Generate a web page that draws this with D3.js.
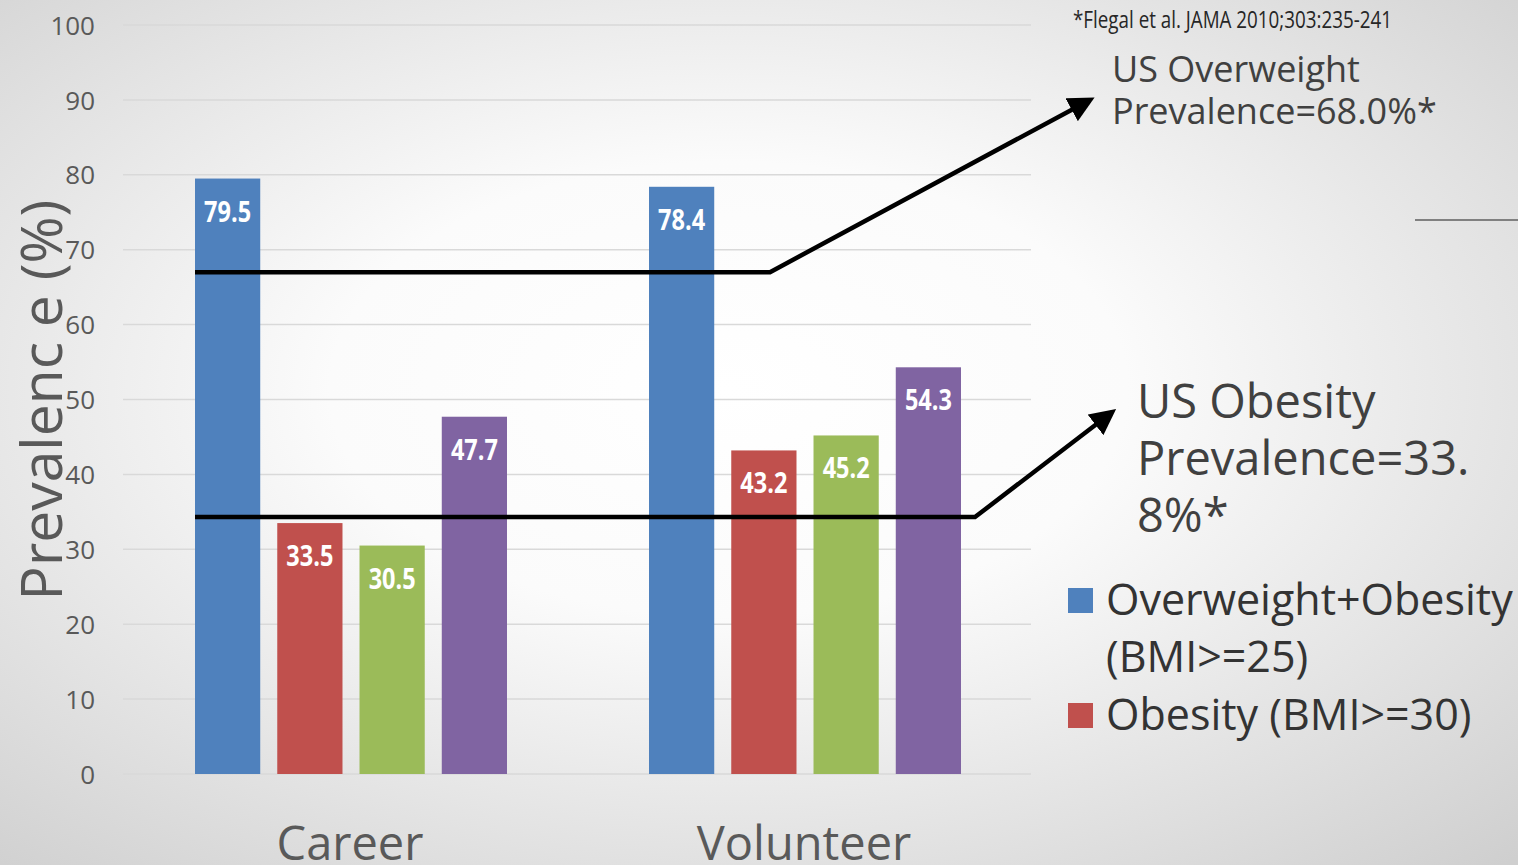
<!DOCTYPE html>
<html>
<head>
<meta charset="utf-8">
<script src="https://cdnjs.cloudflare.com/ajax/libs/d3/7.8.5/d3.min.js"></script>
<style>
body { margin:0; overflow:hidden; }
</style>
</head>
<body>
<div id="figure"></div>
<script>
var W = 1518, H = 865;

// data
var categories = ["Career", "Volunteer"];
var seriesNames = ["Overweight+Obesity (BMI>=25)", "Obesity (BMI>=30)", "Series 3", "Series 4"];
var colors = ["#4F81BD", "#C0504D", "#9BBB59", "#8064A2"];
var career = [79.5, 33.5, 30.5, 47.7];
var volunteer = [78.4, 43.2, 45.2, 54.3];
var yTicks = [0, 10, 20, 30, 40, 50, 60, 70, 80, 90, 100];
var refValues = [67.0, 34.3];   // drawn reference lines
var refTipValues = [90.0, 48.3];
var legendItems = [["Overweight+Obesity", "(BMI>=25)"], ["Obesity (BMI>=30)"]];

var svg = d3.select("#figure").append("svg").attr("width", W).attr("height", H);

var defs = svg.append("defs");
var grad = defs.append("radialGradient").attr("id", "bg")
	.attr("cx", "48%").attr("cy", "45%").attr("r", "75%");
grad.append("stop").attr("offset", "0%").attr("stop-color", "#ffffff");
grad.append("stop").attr("offset", "35%").attr("stop-color", "#fbfbfb");
grad.append("stop").attr("offset", "100%").attr("stop-color", "#cfcfcf");
defs.append("marker").attr("id", "arrow")
	.attr("viewBox", "0 0 10 10").attr("refX", 8).attr("refY", 5)
	.attr("markerWidth", 26).attr("markerHeight", 26)
	.attr("markerUnits", "userSpaceOnUse")
	.attr("orient", "auto")
	.append("path").attr("d", "M0,0 L10,5 L0,10 z").attr("fill", "#000");

svg.append("rect").attr("width", W).attr("height", H).attr("fill", "url(#bg)");

var pLeft = 123, pRight = 1031, pTop = 25, pBottom = 774;

var y = d3.scaleLinear().domain([0, 100]).range([pBottom, pTop]);
var x0 = d3.scaleBand().domain(categories).range([pLeft, pRight]).paddingInner(0).paddingOuter(0);
var x1 = d3.scaleBand().domain(d3.range(4)).range([0, 312]).paddingInner(0.207);

// gridlines
svg.selectAll("line.grid")
	.data(yTicks)
	.enter()
	.append("line")
	.attr("class", "grid")
	.attr("x1", pLeft).attr("x2", pRight)
	.attr("y1", function(d) { return y(d); })
	.attr("y2", function(d) { return y(d); })
	.attr("stroke", "#d9d9d9")
	.attr("stroke-width", 1.5);

// y axis labels
var yAxis = d3.axisLeft(y).tickValues(yTicks).tickSize(0).tickPadding(0);
var ga = svg.append("g").attr("transform", "translate(95,0)").call(yAxis);
ga.select(".domain").remove();
ga.selectAll("text")
	.attr("font-family", "'Open Sans', sans-serif")
	.attr("font-size", "26px")
	.attr("fill", "#595959")
	.attr("dy", "0.35em");

// bars
var groups = [career, volunteer];
var barG = svg.selectAll("g.cat")
	.data(categories)
	.enter()
	.append("g")
	.attr("class", "cat")
	.attr("transform", function(d) {
		return "translate(" + (x0(d) + x0.bandwidth() / 2 - 155) + ",0)";
	});

barG.each(function(cat, ci) {
	var g = d3.select(this);
	g.selectAll("rect")
		.data(groups[ci])
		.enter()
		.append("rect")
		.attr("x", function(d, i) { return x1(i); })
		.attr("y", function(d) { return y(d); })
		.attr("width", x1.bandwidth())
		.attr("height", function(d) { return pBottom - y(d); })
		.attr("fill", function(d, i) { return colors[i]; });
	g.selectAll("text")
		.data(groups[ci])
		.enter()
		.append("text")
		.attr("x", function(d, i) { return x1(i) + x1.bandwidth() / 2; })
		.attr("y", function(d) { return y(d) + 43; })
		.attr("text-anchor", "middle")
		.attr("font-family", "'Open Sans', sans-serif")
		.attr("font-weight", "bold")
		.attr("font-size", "28px")
		.attr("textLength", 47)
		.attr("lengthAdjust", "spacingAndGlyphs")
		.attr("fill", "#ffffff")
		.text(function(d) { return d.toFixed(1); });
});

// category labels
svg.selectAll("text.cat")
	.data(categories)
	.enter()
	.append("text")
	.attr("class", "cat")
	.attr("x", function(d) { return x0(d) + x0.bandwidth() / 2; })
	.attr("y", 860)
	.attr("text-anchor", "middle")
	.attr("font-family", "'Open Sans', sans-serif")
	.attr("font-size", "47px")
	.attr("fill", "#595959")
	.text(function(d) { return d; });

// y title
svg.append("text")
	.attr("transform", "translate(62,400)rotate(-90)")
	.attr("text-anchor", "middle")
	.attr("font-family", "'Open Sans', sans-serif")
	.attr("font-size", "57px")
	.attr("fill", "#595959")
	.text("Prevalenc e (%)");

// reference lines with arrows
var barStart = x0(categories[0]) + x0.bandwidth() / 2 - 155;
var elbows = [770, 975];
var tips = [1090, 1112];
refValues.forEach(function(v, i) {
	svg.append("path")
		.attr("d", "M" + barStart + "," + y(v) + " L" + elbows[i] + "," + y(v) + " L" + tips[i] + "," + y(refTipValues[i]))
		.attr("fill", "none")
		.attr("stroke", "#000")
		.attr("stroke-width", 4.5)
		.attr("marker-end", "url(#arrow)");
});

// annotations
svg.append("text")
	.attr("x", 1073).attr("y", 28)
	.attr("font-family", "'Open Sans', sans-serif")
	.attr("font-size", "24px")
	.attr("textLength", 319)
	.attr("lengthAdjust", "spacingAndGlyphs")
	.attr("fill", "#262626")
	.text("*Flegal et al. JAMA 2010;303:235-241");

var ow = svg.append("text")
	.attr("font-family", "'Open Sans', sans-serif")
	.attr("font-size", "36px")
	.attr("fill", "#404040");
ow.append("tspan").attr("x", 1112).attr("y", 82).text("US Overweight");
ow.append("tspan").attr("x", 1112).attr("y", 124).text("Prevalence=68.0%*");

var ob = svg.append("text")
	.attr("font-family", "'Open Sans', sans-serif")
	.attr("font-size", "47px")
	.attr("fill", "#404040");
["US Obesity", "Prevalence=33.", "8%*"].forEach(function(t, i) {
	ob.append("tspan").attr("x", 1137).attr("y", 418 + i * 57).text(t);
});

svg.append("line")
	.attr("x1", 1415).attr("x2", W)
	.attr("y1", 220).attr("y2", 220)
	.attr("stroke", "#808080").attr("stroke-width", 2);

// legend
var legY = [600, 715];
legendItems.forEach(function(lines, i) {
	svg.append("rect")
		.attr("x", 1068).attr("y", legY[i] - 12)
		.attr("width", 25).attr("height", 25)
		.attr("fill", colors[i]);
	var t = svg.append("text")
		.attr("font-family", "'Open Sans', sans-serif")
		.attr("font-size", "43px")
		.attr("fill", "#333333");
	lines.forEach(function(l, j) {
		t.append("tspan").attr("x", 1106).attr("y", legY[i] + 15 + j * 57).text(l);
	});
});
</script>
</body>
</html>
